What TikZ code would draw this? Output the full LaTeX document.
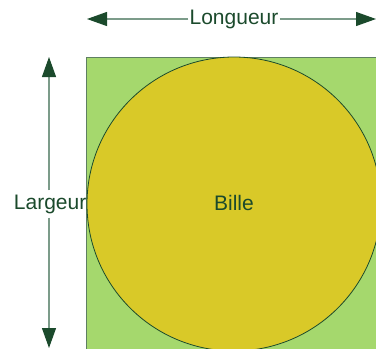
\documentclass[tikz,border=0pt]{standalone}
\usepackage{fontspec}
\setmainfont{Liberation Sans}
\usetikzlibrary{arrows.meta}
\definecolor{fieldgreen}{HTML}{A5D86D}
\definecolor{ballyellow}{HTML}{D9C928}
\definecolor{darkgreen}{HTML}{1B4A2C}
\definecolor{linegreen}{HTML}{7C9C8A}
\definecolor{rectedge}{HTML}{5E7F62}
\tikzset{
  lbl/.style={text=darkgreen, font=\fontsize{21}{25}\selectfont, inner sep=0pt},
  dimline/.style={draw=linegreen, line width=1.2pt, arrows={-{Triangle[length=20pt,width=14pt,color=darkgreen]}}},
}
\begin{document}
\begin{tikzpicture}[x=1pt,y=1pt]
\useasboundingbox (0,0) rectangle (376,-349);
\clip (0,0) rectangle (376,-349);
\fill[fieldgreen, draw=rectedge, line width=1pt] (86,-57) rectangle (390,-360);
\node[circle, minimum size=294pt, inner sep=0pt, fill=ballyellow, draw=darkgreen, line width=0.8pt] (ball) at (234,-204) {};
\node[lbl] (bille) at (234,-203) {Bille};
\node[lbl, inner xsep=1pt, inner ysep=3pt] (long) at (234,-19) {Longueur};
\coordinate (lend) at (87,-19);
\coordinate (rend) at (376,-19);
\draw[dimline] (long.west) -- (lend);
\draw[dimline] (long.east) -- (rend);
\node[lbl, inner xsep=0pt, inner ysep=4pt, anchor=east] (larg) at (86.5,-204) {Largeur};
\coordinate (tend) at (49,-57);
\coordinate (bend) at (49,-348);
\draw[dimline] (larg.north -| tend) -- (tend);
\draw[dimline] (larg.south -| tend) -- (bend);
\end{tikzpicture}
\end{document}
